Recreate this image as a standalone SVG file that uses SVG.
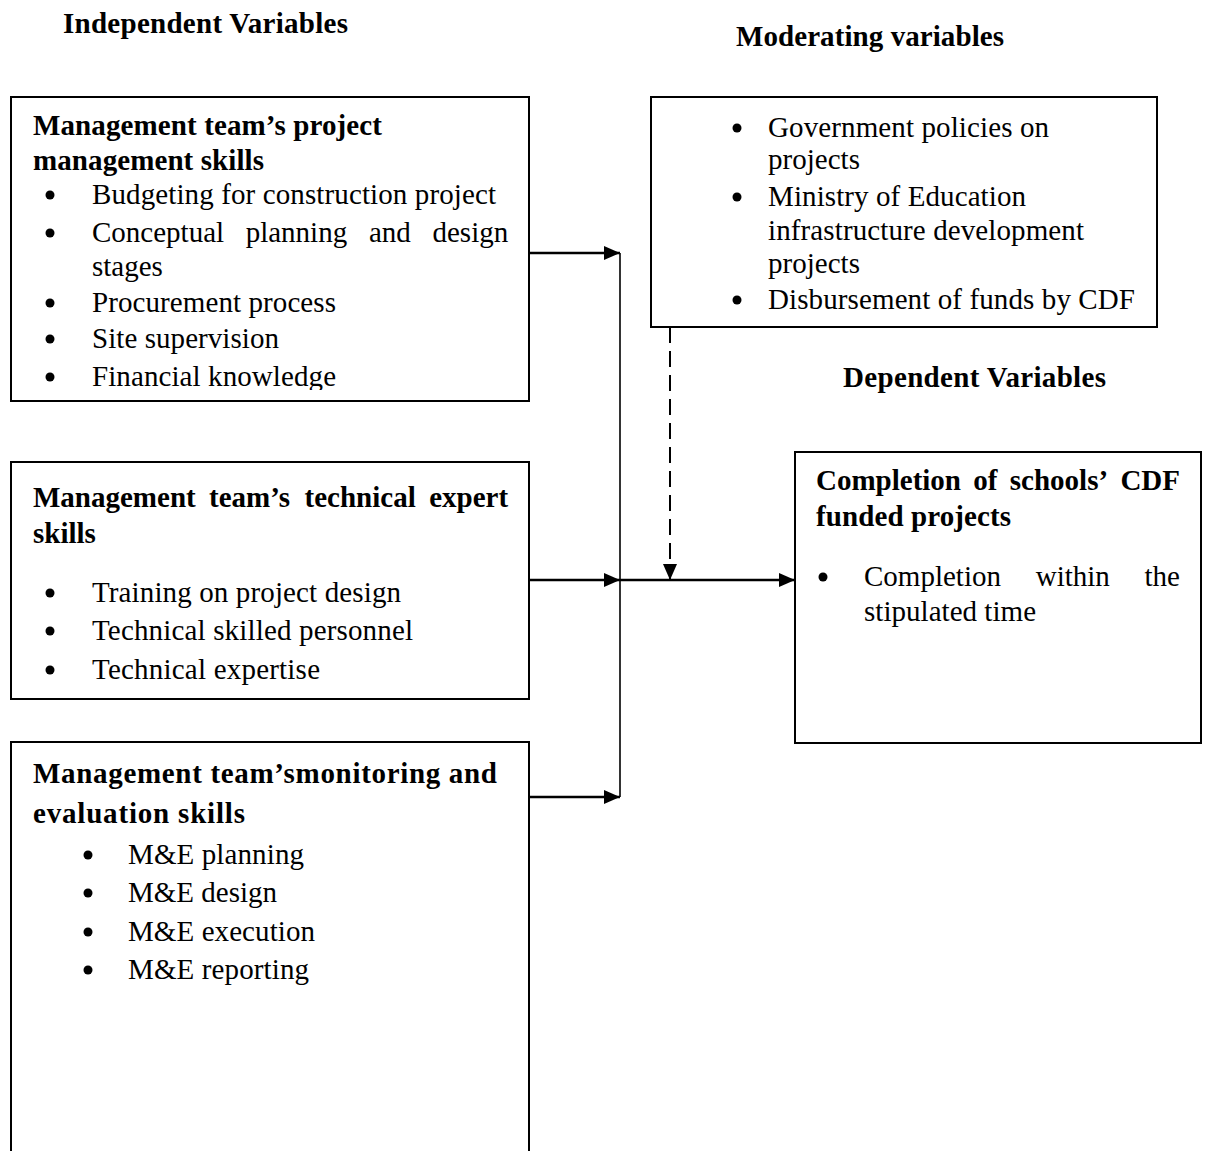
<svg xmlns="http://www.w3.org/2000/svg" width="1207" height="1151" viewBox="0 0 1207 1151">
<style>
text{font-family:'Liberation Serif','Times New Roman',Times,serif;font-size:29px;fill:#000}
.b{font-weight:bold}
.box{fill:#fff;stroke:#000;stroke-width:2}
.ln{stroke:#000;stroke-width:2.5;fill:none}
.bul{fill:#000}
</style>
<defs>
<marker id="ah" markerWidth="16" markerHeight="14" refX="16" refY="7" orient="auto" markerUnits="userSpaceOnUse"><path d="M0,0 L16,7 L0,14 z" fill="#000"/></marker>
<clipPath id="c1"><rect x="11" y="97" width="518" height="293"/></clipPath>
</defs>
<rect width="1207" height="1151" fill="#fff"/>

<g id="titles">
<text class="b" x="63" y="33" textLength="285">Independent Variables</text>
<text class="b" x="736" y="46" textLength="268">Moderating variables</text>
<text class="b" x="843" y="387" textLength="263">Dependent Variables</text>
</g>

<g id="connectors">
<path class="ln" d="M529,253 H620" marker-end="url(#ah)"/>
<path class="ln" d="M529,580 H620" marker-end="url(#ah)"/>
<path class="ln" d="M529,797 H620" marker-end="url(#ah)"/>
<path class="ln" style="stroke-width:1.6" d="M620,253 V797"/>
<path class="ln" d="M620,580 H795" marker-end="url(#ah)"/>
<path class="ln" style="stroke-width:2;stroke-dasharray:16,8" d="M670,327 V580" marker-end="url(#ah)"/>
</g>

<g id="node-pm">
<rect class="box" x="11" y="97" width="518" height="304"/>
<text class="b" x="33" y="135" textLength="349">Management team’s project</text>
<text class="b" x="33" y="170" textLength="231">management skills</text>
<circle class="bul" cx="50" cy="195" r="4.5"/>
<text x="92" y="204" textLength="404">Budgeting for construction project</text>
<circle class="bul" cx="50" cy="233" r="4.5"/>
<text y="242"><tspan x="92">Conceptual</tspan><tspan x="245.7">planning</tspan><tspan x="368.9">and</tspan><tspan x="432.5">design</tspan></text>
<text x="92" y="276">stages</text>
<circle class="bul" cx="50" cy="303" r="4.5"/>
<text x="92" y="312" textLength="244">Procurement process</text>
<circle class="bul" cx="50" cy="339" r="4.5"/>
<text x="92" y="348" textLength="187">Site supervision</text>
<circle class="bul" cx="50" cy="377" r="4.5"/>
<text x="92" y="386" textLength="244" clip-path="url(#c1)">Financial knowledge</text>
</g>

<g id="node-tech">
<rect class="box" x="11" y="462" width="518" height="237"/>
<text class="b" y="507"><tspan x="33">Management</tspan><tspan x="209.1">team’s</tspan><tspan x="304.6">technical</tspan><tspan x="429.2">expert</tspan></text>
<text class="b" x="33" y="543">skills</text>
<circle class="bul" cx="50" cy="593" r="4.5"/>
<text x="92" y="602" textLength="309">Training on project design</text>
<circle class="bul" cx="50" cy="631" r="4.5"/>
<text x="92" y="640" textLength="321">Technical skilled personnel</text>
<circle class="bul" cx="50" cy="670" r="4.5"/>
<text x="92" y="679" textLength="228">Technical expertise</text>
</g>

<g id="node-me">
<rect class="box" x="11" y="742" width="518" height="430"/>
<text class="b" x="33" y="783" textLength="464">Management team’smonitoring and</text>
<text class="b" x="33" y="823" textLength="212">evaluation skills</text>
<circle class="bul" cx="88" cy="855" r="4.5"/>
<text x="128" y="864" textLength="176">M&amp;E planning</text>
<circle class="bul" cx="88" cy="893" r="4.5"/>
<text x="128" y="902" textLength="149">M&amp;E design</text>
<circle class="bul" cx="88" cy="932" r="4.5"/>
<text x="128" y="941" textLength="187">M&amp;E execution</text>
<circle class="bul" cx="88" cy="970" r="4.5"/>
<text x="128" y="979" textLength="181">M&amp;E reporting</text>
</g>

<g id="node-mod">
<rect class="box" x="651" y="97" width="506" height="230"/>
<circle class="bul" cx="737" cy="128" r="4.5"/>
<text x="768" y="137" textLength="281">Government policies on</text>
<text x="768" y="169" textLength="92">projects</text>
<circle class="bul" cx="737" cy="197" r="4.5"/>
<text x="768" y="206" textLength="258">Ministry of Education</text>
<text x="768" y="240" textLength="316">infrastructure development</text>
<text x="768" y="273" textLength="92">projects</text>
<circle class="bul" cx="737" cy="300" r="4.5"/>
<text x="768" y="309" textLength="367">Disbursement of funds by CDF</text>
</g>

<g id="node-dep">
<rect class="box" x="795" y="452" width="406" height="291"/>
<text class="b" y="490"><tspan x="816">Completion</tspan><tspan x="973.3">of</tspan><tspan x="1009.8">schools’</tspan><tspan x="1120.4">CDF</tspan></text>
<text class="b" x="816" y="526" textLength="195">funded projects</text>
<circle class="bul" cx="823" cy="577" r="4.5"/>
<text y="586"><tspan x="864">Completion</tspan><tspan x="1035.7">within</tspan><tspan x="1144.5">the</tspan></text>
<text x="864" y="621" textLength="172">stipulated time</text>
</g>
</svg>
